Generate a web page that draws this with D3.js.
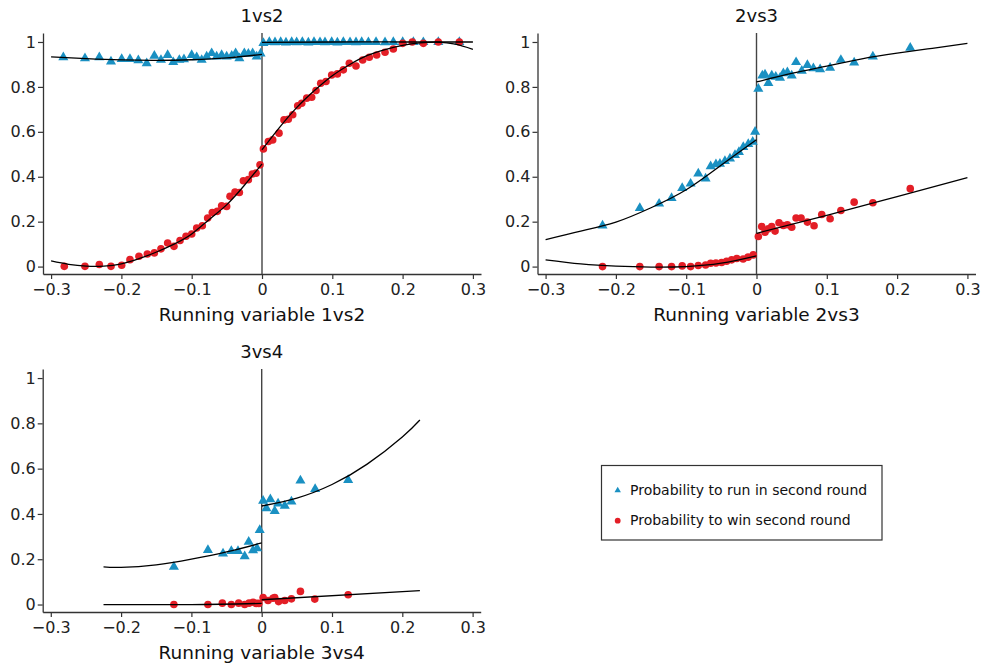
<html>
<head>
<style>
body { margin: 0; background: #fff; }
svg { font-family: "DejaVu Sans", sans-serif; }
</style>
<script src="https://d3js.org/d3.v7.min.js"></script>
</head>
<body>
<svg id="chart" width="987" height="666"></svg>
<script>
// tick values
const xTicks = [-0.3, -0.2, -0.1, 0, 0.1, 0.2, 0.3];
const yTicks = [0, 0.2, 0.4, 0.6, 0.8, 1];

// panel 1vs2 : [running variable, probability]
const run12 = [[-0.2826,0.932],[-0.2518,0.927],[-0.2314,0.932],[-0.2148,0.913],[-0.1996,0.924],[-0.1878,0.924],
  [-0.1759,0.918],[-0.164,0.905],[-0.1531,0.938],[-0.1437,0.92],[-0.1342,0.942],[-0.1262,0.91],[-0.1176,0.92],
  [-0.111,0.923],[-0.1,0.942],[-0.0929,0.932],[-0.0858,0.92],[-0.0787,0.935],[-0.0716,0.95],[-0.0645,0.935],
  [-0.0574,0.942],[-0.0503,0.935],[-0.0431,0.938],[-0.0375,0.95],[-0.0322,0.927],[-0.0251,0.95],[-0.0194,0.947],
  [-0.0133,0.95],[-0.0076,0.935],[-0.002,0.948],
  [0.002,0.995],[0.0104,1.0],[0.0185,0.998],[0.0266,1.0],[0.0341,0.997],[0.0422,1.0],[0.0493,0.998],[0.0574,1.0],
  [0.0659,0.997],[0.074,1.0],[0.0825,0.999],[0.0896,0.998],[0.0991,1.0],[0.1072,0.997],[0.1157,1.0],[0.1252,0.999],
  [0.1337,0.998],[0.1418,1.0],[0.1513,0.999],[0.1622,1.0],[0.175,0.998],[0.1868,1.0],[0.2001,1.0],[0.2153,1.0],
  [0.2295,0.999],[0.2508,1.0],[0.2807,1.0]];
const win12 = [[-0.2812,0.001],[-0.2518,0.001],[-0.2314,0.009],[-0.2148,0.001],[-0.1996,0.006],[-0.1878,0.031],
  [-0.175,0.046],[-0.1631,0.056],[-0.1531,0.061],[-0.1437,0.079],[-0.1342,0.105],[-0.1252,0.09],[-0.1166,0.116],
  [-0.1081,0.135],[-0.1,0.145],[-0.0929,0.172],[-0.0849,0.182],[-0.0773,0.216],[-0.0707,0.241],[-0.0636,0.246],
  [-0.0574,0.271],[-0.0503,0.268],[-0.0455,0.313],[-0.0384,0.332],[-0.0322,0.33],[-0.0265,0.382],[-0.0194,0.387],
  [-0.0137,0.412],[-0.0085,0.416],[-0.0028,0.453],
  [0.002,0.524],[0.009,0.557],[0.0152,0.564],[0.0242,0.594],[0.0313,0.653],[0.0374,0.656],[0.0437,0.676],
  [0.0508,0.716],[0.0565,0.727],[0.0636,0.75],[0.0707,0.754],[0.0768,0.784],[0.0835,0.816],[0.091,0.824],
  [0.0991,0.853],[0.1072,0.858],[0.1157,0.876],[0.1242,0.905],[0.1337,0.893],[0.1432,0.92],[0.1526,0.932],
  [0.1631,0.942],[0.175,0.954],[0.1868,0.969],[0.2001,0.994],[0.2138,1.0],[0.2295,0.994],[0.2508,1.0],[0.2807,1.0]];
const fitRun12 = [
  [[-0.3,0.934],[-0.25,0.926],[-0.2,0.92],[-0.15,0.918],[-0.1,0.921],[-0.05,0.929],[0,0.945]],
  [[0,0.998],[0.1,1.0],[0.2,1.0],[0.3,1.0]]];
const fitWin12 = [
  [[-0.3,0.025],[-0.275,0.01],[-0.25,0.002],[-0.225,0.002],[-0.2,0.012],[-0.175,0.035],[-0.15,0.065],
   [-0.125,0.1],[-0.1,0.145],[-0.075,0.21],[-0.05,0.276],[-0.025,0.362],[0,0.457]],
  [[0,0.52],[0.025,0.62],[0.05,0.71],[0.075,0.785],[0.1,0.85],[0.125,0.9],[0.15,0.94],[0.175,0.966],
   [0.2,0.985],[0.225,0.996],[0.25,0.999],[0.275,0.99],[0.3,0.967]]];

// panel 2vs3
const run23 = [[-0.219,0.183],[-0.166,0.26],[-0.1385,0.28],[-0.1208,0.305],[-0.1057,0.35],[-0.0937,0.369],
  [-0.0828,0.414],[-0.0724,0.392],[-0.0652,0.446],[-0.0577,0.455],[-0.052,0.458],[-0.0449,0.47],[-0.0377,0.481],
  [-0.0306,0.496],[-0.025,0.51],[-0.0188,0.532],[-0.0117,0.545],[-0.0054,0.555],[-0.002,0.6],
  [0.0026,0.791],[0.0083,0.85],[0.0121,0.855],[0.0169,0.817],[0.0217,0.85],[0.0274,0.845],[0.0335,0.84],
  [0.0382,0.86],[0.0439,0.865],[0.0501,0.85],[0.0563,0.91],[0.0644,0.872],[0.0724,0.897],[0.0809,0.883],
  [0.0905,0.878],[0.1047,0.885],[0.12,0.92],[0.1389,0.908],[0.1655,0.935],[0.2187,0.974]];
const win23 = [[-0.219,0.0],[-0.166,0.0],[-0.1385,0.0],[-0.1208,0.0],[-0.1057,0.003],[-0.0937,0.0],[-0.0828,0.005],
  [-0.0724,0.007],[-0.0652,0.015],[-0.0577,0.016],[-0.0496,0.018],[-0.0425,0.024],[-0.0353,0.03],[-0.028,0.036],
  [-0.019,0.034],[-0.012,0.042],[-0.0046,0.052],
  [0.0026,0.134],[0.0074,0.178],[0.0121,0.153],[0.0169,0.168],[0.0216,0.178],[0.0264,0.158],[0.032,0.195],
  [0.0382,0.183],[0.0439,0.186],[0.0501,0.175],[0.0563,0.216],[0.0634,0.216],[0.0724,0.198],[0.0819,0.182],
  [0.0928,0.232],[0.1047,0.213],[0.12,0.25],[0.1389,0.287],[0.1655,0.284],[0.2187,0.347]];
const fitRun23 = [
  [[-0.3,0.12],[-0.25,0.158],[-0.2,0.198],[-0.15,0.262],[-0.1,0.342],[-0.05,0.452],[0,0.565]],
  [[0,0.822],[0.05,0.86],[0.1,0.893],[0.15,0.925],[0.2,0.95],[0.25,0.972],[0.3,0.994]]];
const fitWin23 = [
  [[-0.3,0.03],[-0.25,0.012],[-0.2,0.002],[-0.15,-0.002],[-0.1,0.0],[-0.05,0.015],[0,0.048]],
  [[0,0.148],[0.1,0.228],[0.2,0.312],[0.3,0.396]]];

// panel 3vs4
const run34 = [[-0.1249,0.166],[-0.0765,0.24],[-0.055,0.225],[-0.0432,0.236],[-0.0337,0.236],[-0.0242,0.213],
  [-0.0185,0.277],[-0.0123,0.239],[-0.0066,0.248],[-0.0028,0.329],
  [0.002,0.458],[0.0067,0.425],[0.0123,0.465],[0.0185,0.413],[0.0233,0.446],[0.0328,0.436],[0.0423,0.455],
  [0.0551,0.547],[0.076,0.51],[0.123,0.55]];
const win34 = [[-0.1249,0.0],[-0.0765,0.0],[-0.056,0.006],[-0.0432,0.0],[-0.0328,0.006],[-0.0242,0.0],
  [-0.018,0.006],[-0.0123,0.01],[-0.008,0.005],[-0.004,0.005],
  [0.002,0.031],[0.009,0.018],[0.016,0.028],[0.0185,0.031],[0.024,0.013],[0.0328,0.018],[0.0423,0.025],
  [0.0551,0.058],[0.0755,0.024],[0.123,0.043]];
const fitRun34 = [
  [[-0.225,0.166],[-0.2,0.164],[-0.15,0.175],[-0.1,0.2],[-0.05,0.232],[0,0.272]],
  [[0,0.435],[0.05,0.47],[0.1,0.53],[0.15,0.62],[0.2,0.74],[0.225,0.815]]];
const fitWin34 = [
  [[-0.225,0.0],[-0.1,0.0],[0,0.005]],
  [[0,0.021],[0.225,0.061]]];

const legendLabels = ["Probability to run in second round", "Probability to win second round"];

const blue = "#1a90c2", red = "#e31e26", axisCol = "#333";

const panels = [
  {title: "1vs2", xTitle: "Running variable 1vs2", left: 43, top: 33, w: 438, h: 241,
   run: run12, win: win12, fits: fitRun12.concat(fitWin12)},
  {title: "2vs3", xTitle: "Running variable 2vs3", left: 537.5, top: 33, w: 438, h: 241,
   run: run23, win: win23, fits: fitRun23.concat(fitWin23)},
  {title: "3vs4", xTitle: "Running variable 3vs4", left: 42.7, top: 369, w: 438, h: 243,
   run: run34, win: win34, fits: fitRun34.concat(fitWin34)}
];

const svg = d3.select("#chart");
const fmt = d => d === 0 ? "0" : (d < 0 ? "\u2212" + Math.abs(d) : String(d));
const tri = d3.symbol().type(d3.symbolTriangle).size(44);
const triSmall = d3.symbol().type(d3.symbolTriangle).size(18);

panels.forEach(p => {
  const x = d3.scaleLinear().domain([-0.3115, 0.3115]).range([0, p.w]);
  const y = d3.scaleLinear().domain([-0.033, 1.04]).range([p.h, 0]);
  const g = svg.append("g").attr("transform", "translate(" + p.left + "," + p.top + ")");

  const xa = g.append("g").attr("transform", "translate(0," + p.h + ")")
    .call(d3.axisBottom(x).tickValues(xTicks).tickFormat(fmt).tickSize(5).tickSizeOuter(0).tickPadding(5));
  const ya = g.append("g")
    .call(d3.axisLeft(y).tickValues(yTicks).tickFormat(d => String(d)).tickSize(5).tickSizeOuter(0).tickPadding(2));
  [xa, ya].forEach(a => {
    a.select(".domain").attr("stroke", axisCol).attr("stroke-width", 1.3);
    a.selectAll(".tick line").attr("stroke", axisCol).attr("stroke-width", 1.2);
    a.selectAll("text").attr("fill", "#222").style("font-size", "16px").style("font-family", "DejaVu Sans");
  });

  // cutoff line
  g.append("line").attr("x1", x(0)).attr("x2", x(0)).attr("y1", 0).attr("y2", p.h)
    .attr("stroke", "#444").attr("stroke-width", 1.4);

  g.selectAll(".tri").data(p.run).enter().append("path")
    .attr("d", tri).attr("fill", blue)
    .attr("transform", d => "translate(" + x(d[0]) + "," + y(d[1]) + ")");
  g.selectAll(".dot").data(p.win).enter().append("circle")
    .attr("cx", d => x(d[0])).attr("cy", d => y(d[1])).attr("r", 3.8).attr("fill", red);

  const line = d3.line().x(d => x(d[0])).y(d => y(d[1])).curve(d3.curveNatural);
  p.fits.forEach(f => {
    g.append("path").attr("d", line(f)).attr("fill", "none").attr("stroke", "#000").attr("stroke-width", 1.3);
  });

  g.append("text").attr("x", p.w / 2).attr("y", -11).attr("text-anchor", "middle")
    .style("font-size", "18px").attr("fill", "#111").text(p.title);
  g.append("text").attr("x", x(0)).attr("y", p.h + 46.5).attr("text-anchor", "middle")
    .style("font-size", "18.5px").attr("fill", "#111").text(p.xTitle);
});

// legend
const lg = svg.append("g").attr("transform", "translate(601.5,465.5)");
lg.append("rect").attr("width", 280.5).attr("height", 74.5).attr("fill", "#fff")
  .attr("stroke", axisCol).attr("stroke-width", 1.2);
lg.append("path").attr("d", triSmall).attr("fill", blue).attr("transform", "translate(16.2,25)");
lg.append("circle").attr("cx", 16.2).attr("cy", 55.2).attr("r", 2.9).attr("fill", red);
lg.selectAll(".lt").data(legendLabels).enter().append("text")
  .attr("x", 28.5).attr("y", (d, i) => 29.5 + i * 30.3)
  .style("font-size", "14px").attr("fill", "#111").text(d => d);
</script>
</body>
</html>
